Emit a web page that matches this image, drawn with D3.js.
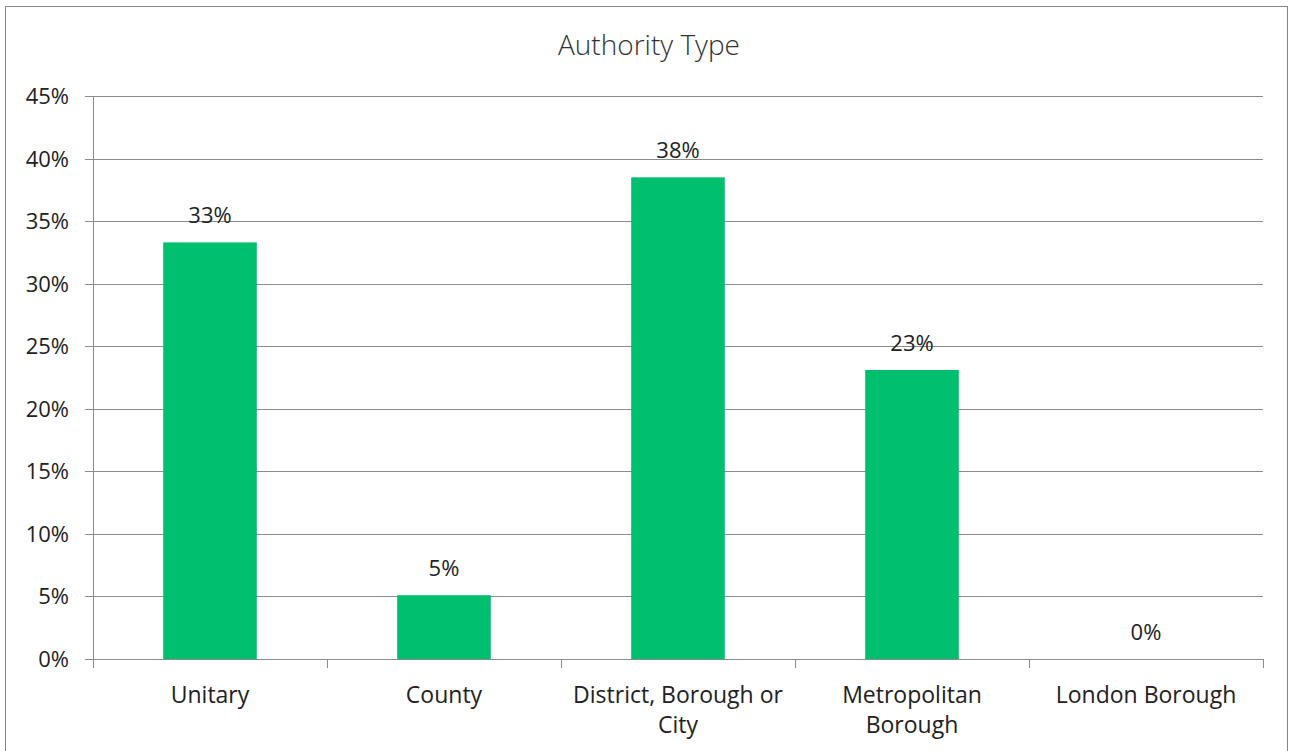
<!DOCTYPE html>
<html><head><meta charset="utf-8">
<script src="https://cdn.jsdelivr.net/npm/d3@7"></script>
<style>body{margin:0;background:#fff}svg{display:block}</style>
</head><body>
<script>
const categories = ["Unitary", "County", "District, Borough or City", "Metropolitan Borough", "London Borough"];
const categoryLines = [["Unitary"], ["County"], ["District, Borough or", "City"], ["Metropolitan", "Borough"], ["London Borough"]];
const values = [0.333, 0.051, 0.385, 0.231, 0];
const valueLabels = ["33%", "5%", "38%", "23%", "0%"];
const yTicks = [0, 0.05, 0.10, 0.15, 0.20, 0.25, 0.30, 0.35, 0.40, 0.45];
const title = "Authority Type";

(function () {
const W = 1293, H = 751;
const font = "'Open Sans', Lato, sans-serif";
const svg = d3.select("body").append("svg").attr("width", W).attr("height", H);
svg.append("rect").attr("x", 5.5).attr("y", 6.5).attr("width", 1282).attr("height", 760)
  .attr("fill", "#fff").attr("stroke", "#888").attr("stroke-width", 1);

const pLeft = 93, pRight = 1263, pTop = 96, pBottom = 659;
const x = d3.scaleBand().domain(categories).range([pLeft, pRight]).padding(0);
const y = d3.scaleLinear().domain([0, 0.45]).range([pBottom, pTop]);

svg.append("text").attr("x", 649).attr("y", 55).attr("text-anchor", "middle")
  .attr("font-family", font).attr("font-weight", 300).attr("font-size", 28).attr("fill", "#333").text(title);

svg.append("g").selectAll("line").data(yTicks).join("line")
  .attr("x1", pLeft - 8).attr("x2", pRight).attr("y1", d => Math.round(y(d)) + 0.5).attr("y2", d => Math.round(y(d)) + 0.5)
  .attr("stroke", "#8c8c8c").attr("stroke-width", 1);

svg.append("g").selectAll("text").data(yTicks).join("text")
  .attr("x", 69).attr("y", d => y(d) + 8).attr("text-anchor", "end")
  .attr("font-family", font).attr("font-size", 22).attr("fill", "#222").text(d3.format(".0%"));

svg.append("line").attr("x1", pLeft + 0.5).attr("x2", pLeft + 0.5).attr("y1", pTop).attr("y2", pBottom + 9)
  .attr("stroke", "#8c8c8c");

const bounds = categories.map(c => x(c)).concat([pRight]);
svg.append("g").selectAll("line").data(bounds).join("line")
  .attr("x1", d => Math.round(d) + 0.5).attr("x2", d => Math.round(d) + 0.5).attr("y1", pBottom).attr("y2", pBottom + 9)
  .attr("stroke", "#8c8c8c");

const bw = x.bandwidth() * 0.4;
svg.append("g").selectAll("rect").data(values).join("rect")
  .attr("x", (d, i) => x(categories[i]) + (x.bandwidth() - bw) / 2)
  .attr("width", bw)
  .attr("y", d => y(d)).attr("height", d => pBottom - y(d))
  .attr("fill", "#00bf6f");

svg.append("line").attr("x1", pLeft - 8).attr("x2", pRight).attr("y1", pBottom + 0.5).attr("y2", pBottom + 0.5).attr("stroke", "#8c8c8c");

svg.append("g").selectAll("text").data(values).join("text")
  .attr("x", (d, i) => x(categories[i]) + x.bandwidth() / 2)
  .attr("y", d => y(d) - 19).attr("text-anchor", "middle")
  .attr("font-family", font).attr("font-size", 22).attr("fill", "#222").text((d, i) => valueLabels[i]);

const cg = svg.append("g").selectAll("text").data(categoryLines).join("text")
  .attr("x", (d, i) => x(categories[i]) + x.bandwidth() / 2)
  .attr("y", 703).attr("text-anchor", "middle")
  .attr("font-family", font).attr("font-size", 23).attr("fill", "#222");
cg.selectAll("tspan").data(d => d).join("tspan")
  .attr("x", function () { return this.parentNode.getAttribute("x"); })
  .attr("dy", (d, i) => i === 0 ? 0 : 30).text(d => d);
})();
</script>
</body></html>
